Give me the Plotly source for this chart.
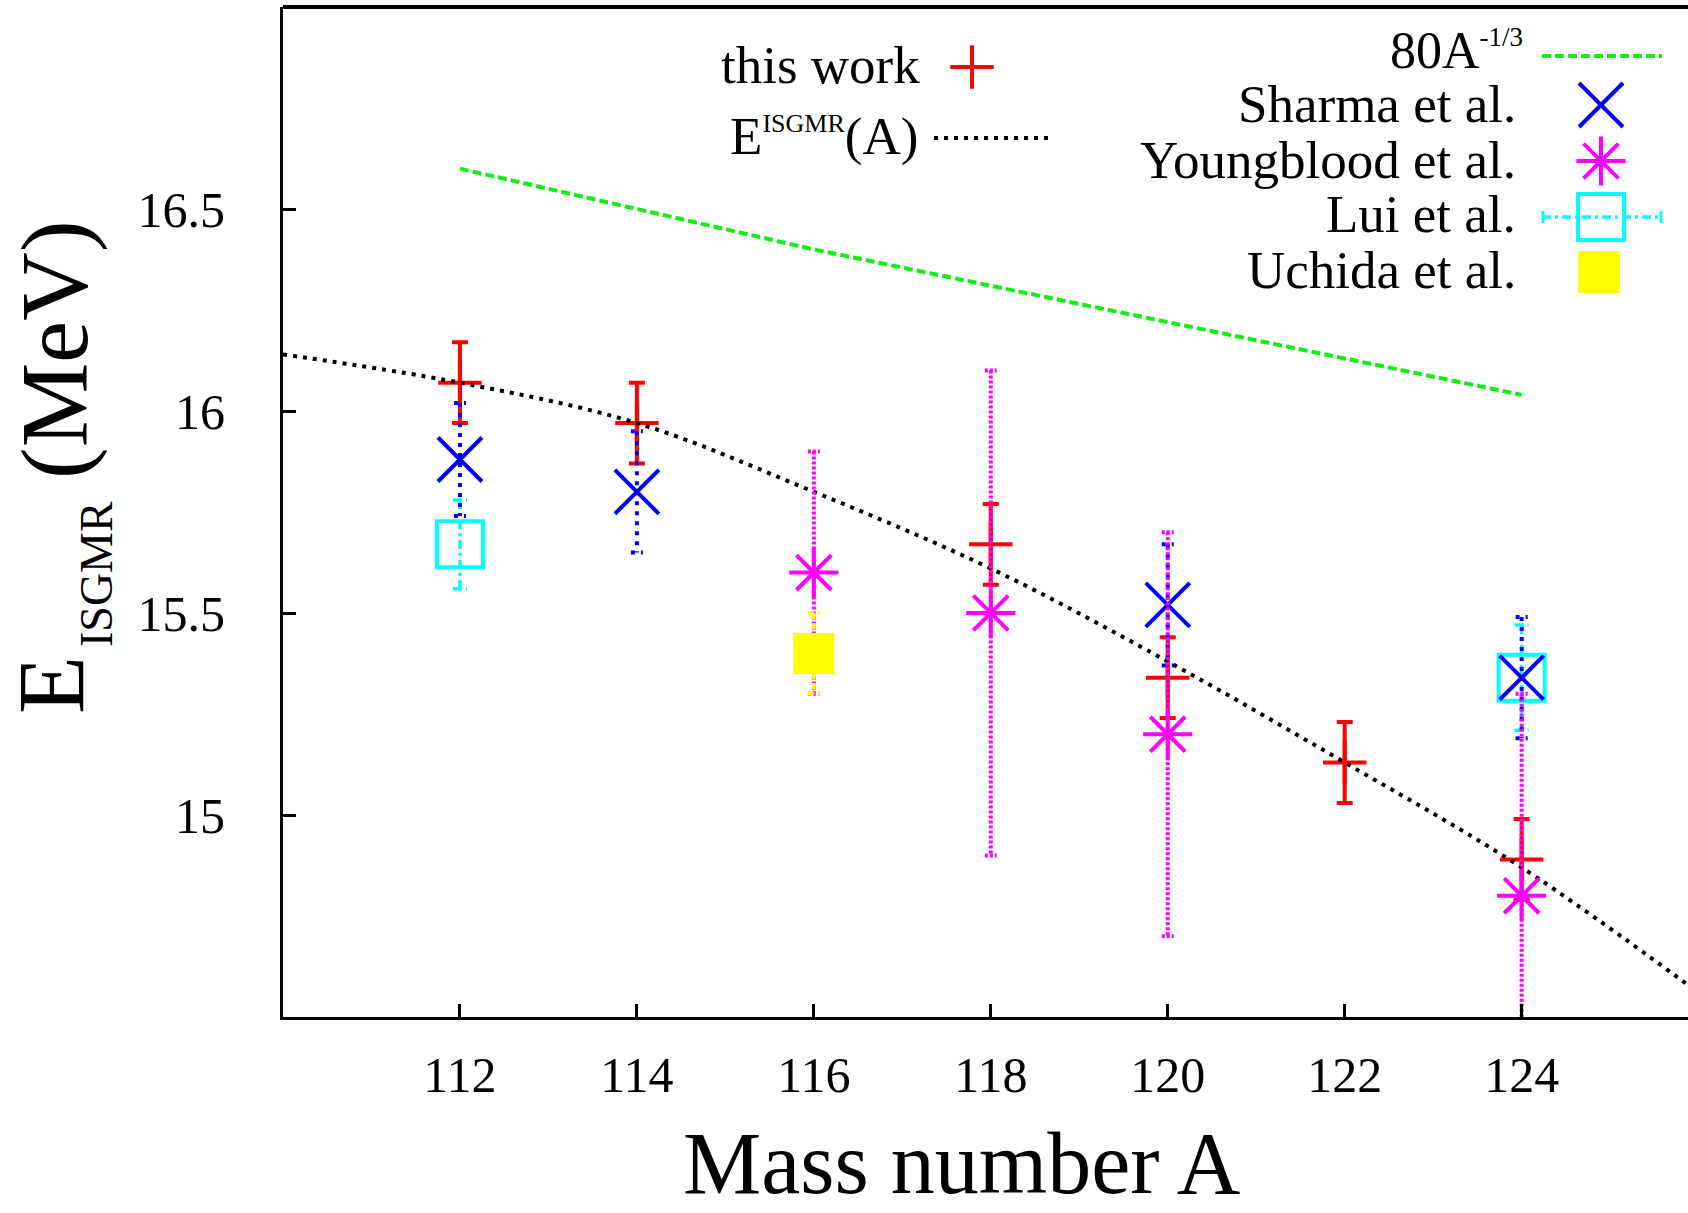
import plotly.graph_objects as go

# ---------------- data ----------------
A_this = [112, 114, 118, 120, 122, 124]
E_this = [16.07, 15.97, 15.67, 15.34, 15.13, 14.89]
dE_this = [0.10, 0.10, 0.10, 0.10, 0.10, 0.10]

A_fit = [110, 112, 114, 116, 118, 120, 122, 124, 126]
E_fit = [16.14, 16.07, 15.97, 15.80, 15.61, 15.38, 15.13, 14.87, 14.56]

A_80 = [112, 114, 116, 118, 120, 122, 124]
E_80 = [16.60, 16.50, 16.40, 16.31, 16.22, 16.13, 16.04]

A_sharma = [112, 114, 120, 124]
E_sharma = [15.88, 15.80, 15.52, 15.34]
dE_sharma = [0.14, 0.15, 0.15, 0.15]

A_young = [116, 118, 120, 124]
E_young = [15.60, 15.50, 15.20, 14.80]
dE_young = [0.30, 0.60, 0.50, 0.50]

A_lui = [112, 124]
E_lui = [15.67, 15.34]
dE_lui = [0.11, 0.13]

A_uchida = [116]
E_uchida = [15.40]
dE_uchida = [0.10]

x_ticks = [112, 114, 116, 118, 120, 122, 124]
y_ticks = [15, 15.5, 16, 16.5]
y_ticktext = ["15", "15.5", "16", "16.5"]

# ---------------- layout constants ----------------
W, H = 1688, 1213
L, R, T, B = 283, 0, 7, 196
X_RANGE = [110, 125.88]
Y_RANGE = [14.5, 17.0]
PPU = (W - L - R) / (X_RANGE[1] - X_RANGE[0])   # pixels per x unit
FONT = "Liberation Serif"

RED, BLUE, MAG, CYAN, YEL, GRN = "#ff0000", "#0000ff", "#ff00ff", "#00ffff", "#ffff00", "#11ee11"


def bar_path(xs, ys, errs, cap_px):
    cap = cap_px / PPU
    px, py = [], []
    for x, y, e in zip(xs, ys, errs):
        px += [x - cap, x + cap, None, x, x, None, x - cap, x + cap, None]
        py += [y + e, y + e, None, y + e, y - e, None, y - e, y - e, None]
    return px, py


fig = go.Figure()

# this work
fig.add_trace(go.Scatter(
    x=A_this, y=E_this, mode="markers",
    marker=dict(symbol="cross-thin-open", size=31, color=RED, line=dict(color=RED, width=4)),
    error_y=dict(type="data", array=dE_this, color=RED, thickness=4, width=8),
    showlegend=False))

# E^ISGMR(A) curve
fig.add_trace(go.Scatter(
    x=A_fit, y=E_fit, mode="lines", line=dict(color="black", width=4, dash="4px,6px", shape="spline"),
    showlegend=False))

# 80 A^-1/3
fig.add_trace(go.Scatter(
    x=A_80, y=E_80, mode="lines", line=dict(color=GRN, width=4, dash="9px,4px"),
    showlegend=False))

# Lui et al.
bx, by = bar_path(A_lui, E_lui, dE_lui, 7)
fig.add_trace(go.Scatter(x=bx, y=by, mode="lines",
                         line=dict(color=CYAN, width=3.5, dash="9px,4px,3px,4px"), showlegend=False))
fig.add_trace(go.Scatter(
    x=A_lui, y=E_lui, mode="markers",
    marker=dict(symbol="square-open", size=46, color=CYAN, line=dict(color=CYAN, width=4)),
    showlegend=False))

# Sharma et al.
bx, by = bar_path(A_sharma, E_sharma, dE_sharma, 6)
fig.add_trace(go.Scatter(x=bx, y=by, mode="lines",
                         line=dict(color=BLUE, width=4, dash="4px,6px"), showlegend=False))
fig.add_trace(go.Scatter(
    x=A_sharma, y=E_sharma, mode="markers",
    marker=dict(symbol="x-thin-open", size=44, color=BLUE, line=dict(color=BLUE, width=4)),
    showlegend=False))

# Youngblood et al.
bx, by = bar_path(A_young, E_young, dE_young, 6)
fig.add_trace(go.Scatter(x=bx, y=by, mode="lines",
                         line=dict(color=MAG, width=4, dash="3px,2px"), showlegend=False))
fig.add_trace(go.Scatter(
    x=A_young, y=E_young, mode="markers",
    marker=dict(symbol="asterisk-open", size=41, color=MAG, line=dict(color=MAG, width=4)),
    showlegend=False))

# Uchida et al.
bx, by = bar_path(A_uchida, E_uchida, dE_uchida, 6)
fig.add_trace(go.Scatter(x=bx, y=by, mode="lines",
                         line=dict(color=YEL, width=3.5, dash="6px,4px"), showlegend=False))
fig.add_trace(go.Scatter(
    x=A_uchida, y=E_uchida, mode="markers",
    marker=dict(symbol="square", size=41, color=YEL, line=dict(width=0)),
    showlegend=False))

# ---------------- custom key (pixel-positioned overlay axes) ----------------
def key_marker(x, y, **m):
    fig.add_trace(go.Scatter(x=[x], y=[y], mode="markers", marker=m, xaxis="x2", yaxis="y2",
                             showlegend=False, hoverinfo="skip"))


def key_line(x0, x1, y, **ln):
    fig.add_trace(go.Scatter(x=[x0, x1], y=[y, y], mode="lines", line=ln, xaxis="x2", yaxis="y2",
                             showlegend=False, hoverinfo="skip"))


key_marker(972, 67, symbol="cross-thin-open", size=31, color=RED, line=dict(color=RED, width=4))
key_line(934, 1053, 138, color="black", width=4, dash="4px,6px")
key_line(1542, 1662, 56, color=GRN, width=4, dash="9px,4px")
key_marker(1601, 105, symbol="x-thin-open", size=44, color=BLUE, line=dict(color=BLUE, width=4))
key_marker(1601, 161, symbol="asterisk-open", size=41, color=MAG, line=dict(color=MAG, width=4))
key_line(1542, 1662, 217, color=CYAN, width=3.5, dash="9px,4px,3px,4px")
fig.add_trace(go.Scatter(x=[1543, 1543, None, 1661, 1661], y=[211, 223, None, 211, 223], mode="lines",
                         line=dict(color=CYAN, width=3), xaxis="x2", yaxis="y2",
                         showlegend=False, hoverinfo="skip"))
key_marker(1601, 217, symbol="square-open", size=46, color=CYAN, line=dict(color=CYAN, width=4))
key_marker(1599, 272, symbol="square", size=42, color=YEL, line=dict(width=0))


def ann(text, px, py, size, xanchor="right", angle=0):
    return dict(text=text, x=0, y=1, xref="paper", yref="paper",
                xshift=px - L, yshift=T - py, xanchor=xanchor, yanchor="middle",
                showarrow=False, textangle=angle, font=dict(family=FONT, size=size, color="black"))


annotations = [
    ann("this work", 922, 65, 53),
    ann("E<sup><span style='font-size:26px'>ISGMR</span></sup>(A)", 920, 136, 53),
    ann("80A<sup><span style='font-size:27px'>-1/3</span></sup>", 1525, 50, 52),
    ann("Sharma et al.", 1518, 104, 53),
    ann("Youngblood et al.", 1518, 160, 53),
    ann("Lui et al.", 1518, 214, 53),
    ann("Uchida et al.", 1518, 270, 53),
    # axis titles
    ann("Mass number A", 961, 1163, 88, xanchor="center"),
    ann("E", 52, 685, 95, xanchor="center", angle=-90),
    ann("ISGMR", 96, 574, 46, xanchor="center", angle=-90),
    ann("(MeV)", 55, 350, 95, xanchor="center", angle=-90),
]

fig.update_layout(
    width=W, height=H,
    margin=dict(l=L, r=R, t=T, b=B, pad=0),
    paper_bgcolor="white", plot_bgcolor="white",
    font=dict(family=FONT, color="black"),
    showlegend=False,
    xaxis=dict(range=X_RANGE, tickmode="array", tickvals=x_ticks,
               ticks="inside", ticklen=13, tickwidth=3, tickcolor="black",
               showline=True, linecolor="black", linewidth=3, mirror=False,
               showgrid=False, zeroline=False, ticklabelstandoff=12,
               tickfont=dict(family=FONT, size=50, color="black")),
    yaxis=dict(range=Y_RANGE, tickmode="array", tickvals=y_ticks, ticktext=y_ticktext,
               ticks="inside", ticklen=13, tickwidth=3, tickcolor="black",
               showline=True, linecolor="black", linewidth=3, mirror=False,
               showgrid=False, zeroline=False, ticklabelstandoff=45,
               tickfont=dict(family=FONT, size=50, color="black")),
    xaxis2=dict(range=[L, W - R], overlaying="x", anchor="y2", visible=False, fixedrange=True),
    yaxis2=dict(range=[H - B, T], overlaying="y", anchor="x2", visible=False, fixedrange=True),
    shapes=[dict(type="line", xref="paper", yref="paper", x0=0, x1=1, y0=1, y1=1,
                 line=dict(color="black", width=4))],
    annotations=annotations,
)

fig.write_html("out.html")
